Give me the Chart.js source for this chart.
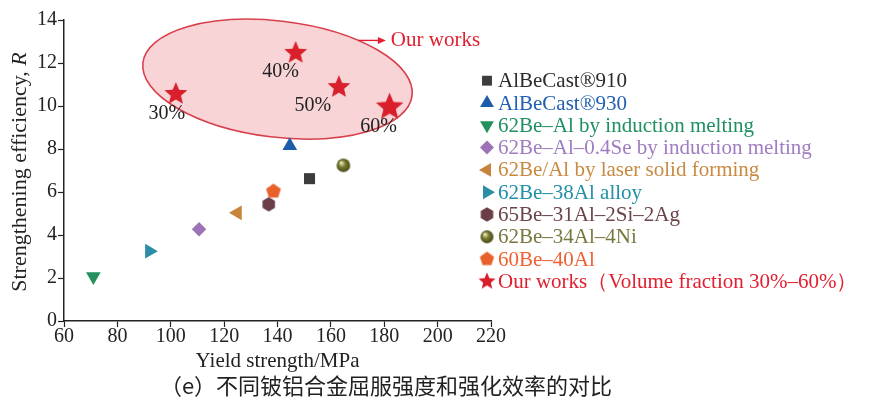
<!DOCTYPE html>
<html>
<head>
<meta charset="utf-8">
<script src="https://cdn.jsdelivr.net/npm/chart.js@4.4.1/dist/chart.umd.min.js"></script>
<style>html,body{margin:0;padding:0;background:#fff}</style>
</head>
<body>
<canvas id="chart" width="869" height="404"></canvas>
<script>
// ---- data ----
const seriesLabels = [
    'AlBeCast®910',
    'AlBeCast®930',
    '62Be–Al by induction melting',
    '62Be–Al–0.4Se by induction melting',
    '62Be/Al by laser solid forming',
    '62Be–38Al alloy',
    '65Be–31Al–2Si–2Ag',
    '62Be–34Al–4Ni',
    '60Be–40Al',
    'Our works（Volume fraction 30%–60%）'
];
const yieldStrength = [[152], [144.6], [71], [110.6], [125], [92], [136.7], [164.7], [138.5], [101.9, 146.8, 163, 182]];
const efficiency = [[6.62], [8.15], [2.07], [4.27], [5.03], [3.25], [5.43], [7.24], [6.03], [10.56, 12.47, 10.88, 9.95]];
const fractionLabels = ['30%', '40%', '50%', '60%'];
const xRange = [60, 220];
const yRange = [0, 14];

// ---- styles ----
const serif = '"Liberation Serif", "Times New Roman", serif';
const markColors = ['#3c3c3c', '#1d5ca8', '#23905e', '#9b73b6', '#c8843a', '#2b8ea6', '#6b3e47', '#777a2a', '#e9612a', '#d81f2b'];
const textColors = ['#2b2b2b', '#2060b0', '#1f9060', '#a07cc0', '#c88a40', '#2090a8', '#6a4448', '#7a7840', '#f06030', '#e02030'];

function shape(kind, r, color) {
    const c = document.createElement('canvas');
    c.width = c.height = Math.ceil(r * 2 + 2);
    const g = c.getContext('2d');
    const m = c.width / 2;
    g.fillStyle = color;
    g.beginPath();
    if (kind === 'sphere') {
        const grad = g.createRadialGradient(m - r * 0.35, m - r * 0.4, r * 0.1, m, m, r);
        grad.addColorStop(0, '#e8e8c0');
        grad.addColorStop(0.45, color);
        grad.addColorStop(1, '#4a4a18');
        g.fillStyle = grad;
        g.arc(m, m, r, 0, Math.PI * 2);
    } else {
        const n = kind === 'hex' ? 6 : kind === 'pent' ? 5 : 10;
        for (let i = 0; i < n; i++) {
            const a = -Math.PI / 2 + i * 2 * Math.PI / n;
            const rr = kind === 'star' && i % 2 ? r * 0.45 : r;
            g.lineTo(m + rr * Math.cos(a), m + rr * Math.sin(a));
        }
        g.closePath();
    }
    g.fill();
    return c;
}

const starSmall = shape('star', 12, markColors[9]);
const plotStyles = [
    {pointStyle: 'rect', radius: 7.8, rotation: 0},
    {pointStyle: 'triangle', radius: 8.5, rotation: 0},
    {pointStyle: 'triangle', radius: 8.5, rotation: 180},
    {pointStyle: 'rectRot', radius: 7.2, rotation: 0},
    {pointStyle: 'triangle', radius: 8.5, rotation: 270},
    {pointStyle: 'triangle', radius: 8.5, rotation: 90},
    {pointStyle: shape('hex', 7.2, markColors[6]), radius: 7, rotation: 0},
    {pointStyle: shape('sphere', 6.8, markColors[7]), radius: 7, rotation: 0},
    {pointStyle: shape('pent', 7.8, markColors[8]), radius: 7, rotation: 0},
    {pointStyle: [starSmall, starSmall, starSmall, shape('star', 14.5, markColors[9])], radius: 12, rotation: 0}
];
const legendStyles = [
    {pointStyle: 'rect', radius: 7, rotation: 0},
    {pointStyle: 'triangle', radius: 8, rotation: 0},
    {pointStyle: 'triangle', radius: 8, rotation: 180},
    {pointStyle: 'rectRot', radius: 7, rotation: 0},
    {pointStyle: 'triangle', radius: 8, rotation: 270},
    {pointStyle: 'triangle', radius: 8, rotation: 90},
    {pointStyle: shape('hex', 7.2, markColors[6]), radius: 7, rotation: 0},
    {pointStyle: shape('sphere', 6.5, markColors[7]), radius: 6, rotation: 0},
    {pointStyle: shape('pent', 7.5, markColors[8]), radius: 7, rotation: 0},
    {pointStyle: shape('star', 9, markColors[9]), radius: 8, rotation: 0}
];

// annotation shapes in data units
const ellipse = {x: 140, y: 11.25, rx: 50.8, ry: 2.7, tilt: 7};
const note = {x: 170.2, x2: 180.6, y: 13.05, text: 'Our works'};
const fractionOffsets = [[-9, 20], [-15, 19], [-26, 19], [-11, 20]];

const datasets = seriesLabels.map((label, i) => ({
    label: label,
    data: yieldStrength[i].map((x, j) => ({x: x, y: efficiency[i][j]})),
    backgroundColor: markColors[i],
    borderWidth: 0,
    pointStyle: plotStyles[i].pointStyle,
    pointRadius: plotStyles[i].radius,
    pointRotation: plotStyles[i].rotation,
    pointHoverRadius: plotStyles[i].radius
}));

const extras = {
    id: 'extras',
    beforeDatasetsDraw(chart) {
        const {ctx, scales: {x, y}} = chart;
        const cx = x.getPixelForValue(ellipse.x), cy = y.getPixelForValue(ellipse.y);
        const rx = x.getPixelForValue(ellipse.x + ellipse.rx) - cx;
        const ry = cy - y.getPixelForValue(ellipse.y + ellipse.ry);
        ctx.save();
        ctx.beginPath();
        ctx.ellipse(cx, cy, rx, ry, ellipse.tilt * Math.PI / 180, 0, Math.PI * 2);
        ctx.fillStyle = 'rgba(236,120,130,0.32)';
        ctx.fill();
        ctx.lineWidth = 1.6;
        ctx.strokeStyle = '#d8404c';
        ctx.stroke();

        // arrow + "Our works"
        const ax = x.getPixelForValue(note.x), bx = x.getPixelForValue(note.x2), ay = y.getPixelForValue(note.y);
        ctx.strokeStyle = '#e02030';
        ctx.fillStyle = '#e02030';
        ctx.lineWidth = 1.4;
        ctx.beginPath();
        ctx.moveTo(ax, ay);
        ctx.lineTo(bx - 6, ay);
        ctx.stroke();
        ctx.beginPath();
        ctx.moveTo(bx, ay);
        ctx.lineTo(bx - 8, ay - 3.5);
        ctx.lineTo(bx - 8, ay + 3.5);
        ctx.closePath();
        ctx.fill();
        ctx.font = '21px ' + serif;
        ctx.textBaseline = 'middle';
        ctx.fillText(note.text, bx + 5, ay);
        ctx.restore();
    },
    afterDatasetsDraw(chart) {
        const {ctx, scales: {x, y}} = chart;
        ctx.save();
        // fraction labels under the stars
        ctx.font = '20px ' + serif;
        ctx.fillStyle = '#222';
        ctx.textAlign = 'center';
        ctx.textBaseline = 'middle';
        const last = yieldStrength.length - 1;
        fractionLabels.forEach((t, j) => {
            const px = x.getPixelForValue(yieldStrength[last][j]);
            const py = y.getPixelForValue(efficiency[last][j]);
            ctx.fillText(t, px + fractionOffsets[j][0], py + fractionOffsets[j][1]);
        });

        // legend
        ctx.font = '21px ' + serif;
        ctx.textAlign = 'left';
        seriesLabels.forEach((label, i) => {
            const ly = 80.7 + i * 22.3;
            const st = legendStyles[i];
            ctx.fillStyle = markColors[i];
            Chart.helpers.drawPoint(ctx, {pointStyle: st.pointStyle, radius: st.radius, rotation: st.rotation, borderWidth: 0}, 487, ly);
            ctx.fillStyle = textColors[i];
            ctx.fillText(label, 498, ly + 1);
        });

        // y axis title with italic R
        ctx.translate(20, 172);
        ctx.rotate(-Math.PI / 2);
        const a = 'Strengthening efficiency, ';
        ctx.font = '22px ' + serif;
        const wa = ctx.measureText(a).width;
        ctx.font = 'italic 22px ' + serif;
        const wb = ctx.measureText('R').width;
        ctx.fillStyle = '#222';
        ctx.font = '22px ' + serif;
        ctx.fillText(a, -(wa + wb) / 2, 0);
        ctx.font = 'italic 22px ' + serif;
        ctx.fillText('R', -(wa + wb) / 2 + wa, 0);
        ctx.restore();

        // caption
        ctx.save();
        ctx.font = '22px "Noto Sans CJK SC", ' + serif;
        ctx.fillStyle = '#222';
        ctx.textAlign = 'center';
        ctx.textBaseline = 'middle';
        ctx.fillText('（e）不同铍铝合金屈服强度和强化效率的对比', 386, 386);
        ctx.restore();
    }
};

const tickFont = {family: serif, size: 20};

new Chart(document.getElementById('chart'), {
    type: 'scatter',
    data: {datasets: datasets},
    options: {
        responsive: false,
        animation: false,
        layout: {padding: {left: 0, right: 378, top: 20, bottom: 32}},
        plugins: {legend: {display: false}, tooltip: {enabled: false}},
        scales: {
            x: {
                type: 'linear', min: xRange[0], max: xRange[1],
                ticks: {stepSize: 20, font: tickFont, color: '#222', padding: -2},
                grid: {drawOnChartArea: false, tickLength: 6, color: '#222', tickWidth: 1.2},
                border: {color: '#222', width: 1.5},
                title: {display: true, text: 'Yield strength/MPa', font: {family: serif, size: 21}, color: '#222', padding: {top: 0, bottom: -2}},
                afterFit(s) { s.height = 51; }
            },
            y: {
                type: 'linear', min: yRange[0], max: yRange[1],
                ticks: {stepSize: 2, font: tickFont, color: '#222', padding: 1},
                grid: {drawOnChartArea: false, tickLength: 6, color: '#222', tickWidth: 1.2},
                border: {color: '#222', width: 1.5},
                afterFit(s) { s.width = 64; }
            }
        }
    },
    plugins: [extras]
});
</script>
</body>
</html>
